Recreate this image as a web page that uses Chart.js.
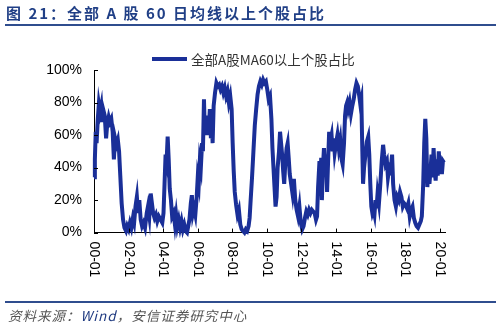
<!DOCTYPE html>
<html>
<head>
<meta charset="utf-8">
<script src="https://cdn.jsdelivr.net/npm/chart.js@4/dist/chart.umd.min.js"></script>
<style>
  html, body { margin: 0; padding: 0; background: #fff; }
  #wrap { position: relative; width: 500px; height: 324px; overflow: hidden; }
  #chart { position: absolute; left: 0; top: 0; }
  #title { position: absolute; left: 6px; top: 2px; font: bold 15px "Noto Sans CJK SC", sans-serif; color: #203f86; letter-spacing: 2px; white-space: nowrap; }
  .rule { position: absolute; left: 5px; width: 491px; height: 2px; background: #2f4d8e; }
  #legend { position: absolute; left: 152px; top: 49px; height: 18px; white-space: nowrap; }
  #legend .swatch { position: absolute; left: 0; top: 8px; width: 35px; height: 4px; background: #1a2f98; }
  #legend .text { position: absolute; left: 39px; top: 0; font: 13.5px "Noto Sans CJK SC", sans-serif; color: #333; }
  #source { position: absolute; left: 8px; top: 305px; font: italic 13.5px "Noto Sans CJK SC", sans-serif; color: #555; letter-spacing: 1px; white-space: nowrap; }
  #source b { font-weight: normal; color: #1f3a80; }
</style>
</head>
<body>
<div id="wrap">
  <canvas id="chart" width="500" height="324"></canvas>
  <div id="title">图 21：全部 A 股 60 日均线以上个股占比</div>
  <div class="rule" style="top:24px"></div>
  <div id="legend"><span class="swatch"></span><span class="text">全部A股MA60以上个股占比</span></div>
  <div class="rule" style="top:301px"></div>
  <div id="source">资料来源：<b>Wind</b>，安信证券研究中心</div>
</div>
<script>
// years since 2000-01
const yearOffsets = [
  0.00, 0.05, 0.10, 0.15, 0.22, 0.28, 0.35, 0.42, 0.48, 0.55, 0.62, 0.70, 0.76, 0.85, 0.92,
  1.00, 1.08, 1.15, 1.22, 1.30, 1.38, 1.45, 1.52, 1.60, 1.68, 1.76, 1.85, 1.92,
  2.00, 2.08, 2.16, 2.25, 2.32, 2.40, 2.48, 2.55, 2.62, 2.70, 2.78, 2.86, 2.95,
  3.05, 3.12, 3.20, 3.28, 3.35, 3.42, 3.50, 3.58, 3.66, 3.75, 3.85, 3.95,
  4.02, 4.08, 4.14, 4.20, 4.26, 4.32, 4.38, 4.45, 4.52, 4.60, 4.68, 4.75, 4.82, 4.90, 4.98,
  5.06, 5.14, 5.22, 5.30, 5.38, 5.45, 5.52, 5.60, 5.66, 5.72, 5.78, 5.86, 5.94,
  6.00, 6.06, 6.12, 6.18, 6.25, 6.30, 6.36, 6.40, 6.46, 6.52, 6.58, 6.64, 6.70, 6.76, 6.82, 6.86, 6.92,
  7.00, 7.08, 7.16, 7.24, 7.32, 7.40, 7.48, 7.56, 7.64, 7.72, 7.80, 7.88, 7.96,
  8.02, 8.08, 8.14, 8.22, 8.30, 8.38, 8.46, 8.54, 8.62, 8.70, 8.78, 8.86, 8.94,
  9.00, 9.06, 9.14, 9.22, 9.30, 9.38, 9.46, 9.54, 9.62, 9.70, 9.78, 9.86, 9.94,
  10.02, 10.10, 10.18, 10.26, 10.32, 10.38, 10.44, 10.50, 10.56, 10.62, 10.70, 10.76, 10.82, 10.88, 10.94,
  11.00, 11.06, 11.14, 11.20, 11.26, 11.32, 11.40, 11.48, 11.56, 11.64, 11.72, 11.80, 11.88, 11.96,
  12.04, 12.12, 12.20, 12.28, 12.36, 12.44, 12.52, 12.60, 12.68, 12.76, 12.84, 12.90, 12.96,
  13.04, 13.10, 13.14, 13.18, 13.24, 13.30, 13.36, 13.42, 13.48, 13.54, 13.60, 13.66, 13.74, 13.80, 13.86, 13.92,
  14.00, 14.08, 14.16, 14.24, 14.32, 14.38, 14.46, 14.52, 14.58, 14.64, 14.70, 14.78, 14.86, 14.94,
  15.02, 15.10, 15.18, 15.26, 15.34, 15.40, 15.46, 15.52, 15.56, 15.62, 15.70, 15.78, 15.86, 15.92, 15.98,
  16.04, 16.10, 16.16, 16.22, 16.28, 16.34, 16.40, 16.48, 16.56, 16.64, 16.72, 16.78, 16.86, 16.94,
  17.00, 17.08, 17.16, 17.24, 17.30, 17.38, 17.46, 17.54, 17.62, 17.70, 17.78, 17.86, 17.94,
  18.02, 18.10, 18.18, 18.26, 18.34, 18.42, 18.50, 18.58, 18.66, 18.74, 18.82, 18.90, 18.96,
  19.04, 19.10, 19.16, 19.22, 19.28, 19.34, 19.40, 19.46, 19.52, 19.58, 19.64, 19.70, 19.76, 19.82, 19.88, 19.94,
  20.00, 20.06, 20.12, 20.18, 20.24,
];

// % of A shares above 60-day MA
const shareAboveMa60 = [
  34, 45, 62, 55, 70, 79, 74, 78, 68, 75, 72, 58, 66, 71, 68,
  70, 62, 45, 58, 54, 57, 50, 35, 18, 8, 3, 1, 4,
  2, 6, 3, 9, 6, 16, 22, 12, 20, 8, 4, 6, 3,
  12, 16, 10, 24, 18, 12, 9, 11, 7, 10, 8, 6,
  12, 30, 48, 44, 59, 45, 27, 20, 10, 12, 5, 11, 4, 8, 3,
  7, 2, 5, 1, 0, 4, 8, 18, 23, 12, 15, 11, 22,
  34, 30, 44, 40, 55, 50, 82, 66, 72, 60, 70, 64, 76, 58, 68, 55, 78,
  86, 92, 90, 91, 88, 90, 86, 89, 84, 87, 80, 84, 76,
  55, 38, 25, 17, 11, 14, 5, 2, 1, 0, 2, 1, 4,
  9, 20, 34, 50, 66, 76, 85, 90, 93, 91, 94, 92, 93,
  88, 82, 84, 70, 52, 40, 28, 16, 22, 40, 50, 62, 55, 48, 38,
  30, 42, 52, 55, 46, 36, 30, 24, 33, 20, 14, 10, 16, 6,
  2, 4, 9, 13, 11, 14, 12, 14, 13, 12, 8, 10, 28,
  44, 30, 46, 20, 40, 52, 38, 48, 25, 44, 62, 56, 60, 50, 58, 49,
  55, 60, 52, 57, 45, 42, 55, 72, 78, 80, 76, 80, 73, 78,
  82, 88, 92, 90, 84, 79, 82, 50, 30, 40, 48, 56, 59, 48, 30,
  16, 12, 14, 11, 20, 15, 24, 18, 30, 44, 54, 48, 42, 44,
  34, 40, 38, 48, 30, 20, 16, 22, 20, 25, 22, 16, 18,
  17, 15, 18, 10, 14, 16, 9, 6, 4, 3, 5, 7, 10,
  30, 55, 70, 58, 28, 42, 30, 38, 48, 34, 52, 38, 32, 45, 35, 50,
  40, 46, 36, 44, 43,
];

const xTickYears = [0, 2, 4, 6, 8, 10, 12, 14, 16, 18, 20];
const xTickLabels = ["00-01", "02-01", "04-01", "06-01", "08-01", "10-01", "12-01", "14-01", "16-01", "18-01", "20-01"];
const yTickValues = [0, 20, 40, 60, 80, 100];

const lineColor = "#1a2f98";

// ticks point into the plot, and date labels read top to bottom
const axisDecor = {
  id: "axisDecor",
  afterDraw(chart) {
    const { ctx, chartArea, scales: { x, y } } = chart;
    ctx.save();
    ctx.strokeStyle = "#000";
    ctx.lineWidth = 1;
    ctx.beginPath();
    yTickValues.forEach((v) => {
      const py = Math.round(y.getPixelForValue(v)) + 0.5;
      ctx.moveTo(chartArea.left, py);
      ctx.lineTo(chartArea.left + 4, py);
    });
    xTickYears.forEach((v) => {
      const px = Math.round(x.getPixelForValue(v)) + 0.5;
      ctx.moveTo(px, chartArea.bottom);
      ctx.lineTo(px, chartArea.bottom - 4);
    });
    ctx.stroke();

    ctx.fillStyle = "#000";
    ctx.font = '14px "Liberation Sans", Arial, sans-serif';
    ctx.textAlign = "left";
    ctx.textBaseline = "middle";
    xTickYears.forEach((v, i) => {
      ctx.save();
      ctx.translate(x.getPixelForValue(v), chartArea.bottom + 9);
      ctx.rotate(Math.PI / 2);
      ctx.fillText(xTickLabels[i], 0, 0);
      ctx.restore();
    });
    ctx.restore();
  },
};

new Chart(document.getElementById("chart"), {
  type: "line",
  data: {
    datasets: [{
      label: "全部A股MA60以上个股占比",
      data: yearOffsets.map((t, i) => ({ x: t, y: shareAboveMa60[i] })),
      borderColor: lineColor,
      backgroundColor: lineColor,
      borderWidth: 4,
      pointRadius: 0,
      tension: 0,
      fill: false,
      clip: false,
    }],
  },
  options: {
    responsive: false,
    animation: false,
    layout: { padding: { top: 70, right: 55, bottom: 0, left: 0 } },
    plugins: { legend: { display: false }, tooltip: { enabled: false } },
    scales: {
      x: {
        type: "linear",
        min: 0,
        max: 20.3,
        ticks: { display: false },
        grid: { drawOnChartArea: false, drawTicks: false },
        border: { color: "#000", width: 1 },
        afterFit: (s) => { s.height = 91.4; },
      },
      y: {
        min: 0,
        max: 100,
        afterBuildTicks: (s) => { s.ticks = yTickValues.map((v) => ({ value: v })); },
        ticks: {
          callback: (v) => v + "%",
          padding: 12,
          color: "#000",
          font: { size: 14, family: '"Liberation Sans", Arial, sans-serif' },
        },
        grid: { drawOnChartArea: false, drawTicks: false },
        border: { color: "#000", width: 1 },
        afterFit: (s) => { s.width = 94; },
      },
    },
  },
  plugins: [axisDecor],
});
</script>
</body>
</html>
